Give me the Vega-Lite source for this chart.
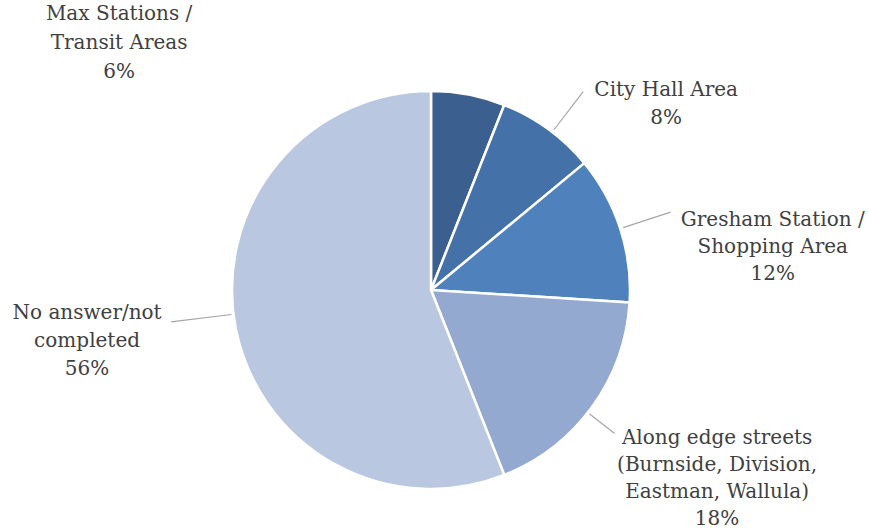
{
  "$schema": "https://vega.github.io/schema/vega-lite/v6.json",
  "width": 862,
  "height": 482,
  "autosize": {"type": "none"},
  "padding": {"left": 0, "top": 49, "right": 7, "bottom": 0},
  "background": "white",
  "config": {"view": {"stroke": null}},
  "data": {
    "values": [
      {"cat": "Max Stations / Transit Areas", "value": 6, "order": 1, "label": "Max Stations /\nTransit Areas\n6%"},
      {"cat": "City Hall Area", "value": 8, "order": 2, "label": "City Hall Area\n8%"},
      {"cat": "Gresham Station / Shopping Area", "value": 12, "order": 3, "label": "Gresham Station /\nShopping Area\n12%"},
      {"cat": "Along edge streets (Burnside, Division, Eastman, Wallula)", "value": 18, "order": 4, "label": "Along edge streets\n(Burnside, Division,\nEastman, Wallula)\n18%"},
      {"cat": "No answer/not completed", "value": 56, "order": 5, "label": "No answer/not\ncompleted\n56%"}
    ]
  },
  "layer": [
    {
      "mark": {"type": "arc", "radius": 199, "stroke": "white", "strokeWidth": 2.5},
      "encoding": {
        "theta": {"field": "value", "type": "quantitative", "stack": true},
        "order": {"field": "order", "type": "quantitative"},
        "color": {
          "field": "cat",
          "type": "nominal",
          "scale": {
            "domain": ["Max Stations / Transit Areas", "City Hall Area", "Gresham Station / Shopping Area", "Along edge streets (Burnside, Division, Eastman, Wallula)", "No answer/not completed"],
            "range": ["#3B5F8E", "#4472A8", "#4F81BD", "#94A9D0", "#BAC7E0"]
          },
          "legend": null
        }
      }
    },
    {
      "transform": [
        {"stack": "value", "sort": [{"field": "order"}], "as": ["s0", "s1"]},
        {"filter": "datum.order === 2"}
      ],
      "mark": {"type": "arc", "radius": 250, "radius2": 202, "thetaOffset": 0.2775, "theta2Offset": 0.2775, "stroke": "#A6A6A6", "strokeWidth": 1.2, "fill": "transparent"},
      "encoding": {
        "theta": {"field": "s0", "type": "quantitative", "scale": {"domain": [0, 100]}},
        "theta2": {"field": "s0"}
      }
    },
    {
      "transform": [
        {"stack": "value", "sort": [{"field": "order"}], "as": ["s0", "s1"]},
        {"filter": "datum.order === 3"}
      ],
      "mark": {"type": "arc", "radius": 252, "radius2": 202, "thetaOffset": 0.376991, "theta2Offset": 0.376991, "stroke": "#A6A6A6", "strokeWidth": 1.2, "fill": "transparent"},
      "encoding": {
        "theta": {"field": "s0", "type": "quantitative", "scale": {"domain": [0, 100]}},
        "theta2": {"field": "s0"}
      }
    },
    {
      "transform": [
        {"stack": "value", "sort": [{"field": "order"}], "as": ["s0", "s1"]},
        {"filter": "datum.order === 4"}
      ],
      "mark": {"type": "arc", "radius": 233, "radius2": 201, "thetaOffset": 0.6004, "theta2Offset": 0.6004, "stroke": "#A6A6A6", "strokeWidth": 1.2, "fill": "transparent"},
      "encoding": {
        "theta": {"field": "s0", "type": "quantitative", "scale": {"domain": [0, 100]}},
        "theta2": {"field": "s0"}
      }
    },
    {
      "transform": [
        {"stack": "value", "sort": [{"field": "order"}], "as": ["s0", "s1"]},
        {"filter": "datum.order === 5"}
      ],
      "mark": {"type": "arc", "radius": 262, "radius2": 201, "thetaOffset": 1.8255, "theta2Offset": 1.8255, "stroke": "#A6A6A6", "strokeWidth": 1.2, "fill": "transparent"},
      "encoding": {
        "theta": {"field": "s0", "type": "quantitative", "scale": {"domain": [0, 100]}},
        "theta2": {"field": "s0"}
      }
    },
    {
      "mark": {"type": "text", "radius": 230, "dx": -355, "dy": -50, "font": "DejaVu Serif", "fontSize": 20, "fill": "#404040", "lineBreak": "\n", "lineHeight": 29, "align": "center", "baseline": "middle"},
      "encoding": {
        "theta": {"field": "value", "type": "quantitative", "stack": true},
        "order": {"field": "order", "type": "quantitative"},
        "text": {"field": "label"},
        "opacity": {"condition": {"test": "datum.order === 1", "value": 1}, "value": 0}
      }
    },
    {
      "mark": {"type": "text", "radius": 230, "dx": 100, "dy": -14, "font": "DejaVu Serif", "fontSize": 20, "fill": "#404040", "lineBreak": "\n", "lineHeight": 28, "align": "center", "baseline": "middle"},
      "encoding": {
        "theta": {"field": "value", "type": "quantitative", "stack": true},
        "order": {"field": "order", "type": "quantitative"},
        "text": {"field": "label"},
        "opacity": {"condition": {"test": "datum.order === 2", "value": 1}, "value": 0}
      }
    },
    {
      "mark": {"type": "text", "radius": 230, "dx": 123, "dy": 1, "font": "DejaVu Serif", "fontSize": 20, "fill": "#404040", "lineBreak": "\n", "lineHeight": 27, "align": "center", "baseline": "middle"},
      "encoding": {
        "theta": {"field": "value", "type": "quantitative", "stack": true},
        "order": {"field": "order", "type": "quantitative"},
        "text": {"field": "label"},
        "opacity": {"condition": {"test": "datum.order === 3", "value": 1}, "value": 0}
      }
    },
    {
      "mark": {"type": "text", "radius": 230, "dx": 100, "dy": 13, "font": "DejaVu Serif", "fontSize": 20, "fill": "#404040", "lineBreak": "\n", "lineHeight": 27, "align": "center", "baseline": "middle"},
      "encoding": {
        "theta": {"field": "value", "type": "quantitative", "stack": true},
        "order": {"field": "order", "type": "quantitative"},
        "text": {"field": "label"},
        "opacity": {"condition": {"test": "datum.order === 4", "value": 1}, "value": 0}
      }
    },
    {
      "mark": {"type": "text", "radius": 230, "dx": -118, "dy": -20, "font": "DejaVu Serif", "fontSize": 20, "fill": "#404040", "lineBreak": "\n", "lineHeight": 28, "align": "center", "baseline": "middle"},
      "encoding": {
        "theta": {"field": "value", "type": "quantitative", "stack": true},
        "order": {"field": "order", "type": "quantitative"},
        "text": {"field": "label"},
        "opacity": {"condition": {"test": "datum.order === 5", "value": 1}, "value": 0}
      }
    }
  ]
}
